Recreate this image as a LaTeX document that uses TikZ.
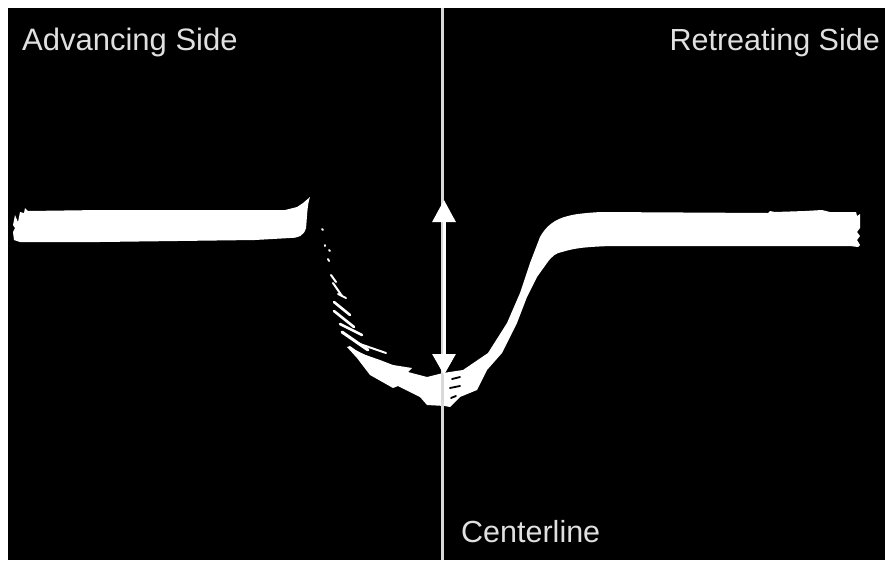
\documentclass[tikz,border=0pt]{standalone}
\usepackage{fontspec}
\setmainfont{Liberation Sans}
\usetikzlibrary{arrows.meta}
\tikzset{
  lbl/.style={text=black!12,inner sep=0pt,font=\fontsize{30.5}{36}\selectfont},
  band/.style={fill=white,draw=none},
  fleck/.style={draw=white,line cap=round,line width=2pt},
  gapdash/.style={draw=black,line cap=round,line width=1.8pt},
  cline/.style={draw=black!15,line width=3pt},
  span/.style={draw=white,line width=3pt,{Triangle[width=23pt,length=22pt]}-{Triangle[width=23pt,length=21pt]}}
}
\begin{document}
\begin{tikzpicture}[x=1pt,y=-1pt]
\useasboundingbox (0,0) rectangle (885,560);
\fill[white] (0,0) rectangle (885,560);
\fill[black] (8,8) rectangle (885,560);
% left plateau
\path[band] (15,215) -- (18,222) -- (20,212) -- (24,213) -- (25,208) -- (28,211) -- (100,210) -- (285,210)
  -- (297,207) -- (303,203) -- (310,197)
  .. controls (307,205) and (307,220) .. (306,228) .. controls (304,236) and (298,238) .. (290,238)
  -- (255,240) -- (100,242) -- (20,242) -- (14,240) -- (13,232) -- (15,228) -- (13,225) -- cycle;
% right plateau, wall and trough
\path[band] (860,214) -- (857,216) -- (856,212) -- (830,212) -- (822,210) -- (805,211) -- (775,212) -- (770,211) -- (768,213)
  -- (600,212) .. controls (585,213) and (575,214) .. (568,216)
  .. controls (555,219) and (546,226) .. (540,237)
  -- (530,263) -- (520,293) -- (507,323) -- (488,353) -- (463,370) -- (443,373)
  -- (427,377) -- (408,372) -- (412,368) -- (393,365) -- (380,360) -- (360,353)
  -- (350,346) -- (347,347) -- (357,358) -- (370,375)
  -- (393,388) -- (398,386) -- (420,397) -- (427,405) -- (445,406) -- (450,407) -- (460,397) -- (477,390) -- (487,370)
  -- (502,353) -- (517,323) -- (527,297) -- (537,277) -- (547,263)
  .. controls (552,256) and (556,253) .. (562,252)
  .. controls (575,248) and (585,247) .. (610,246)
  -- (850,246) -- (858,247) -- (860,245) -- (857,240) -- (860,236) -- (857,232) -- (860,228) -- cycle;
% flecks on the sparse left wall
\draw[fleck] (322,229) -- (323,230);
\draw[fleck] (325,245) -- (325,246);
\draw[fleck] (329,250) -- (330,251);
\draw[fleck] (328,259) -- (329,261);
\draw[fleck] (331,275) -- (336,282);
\draw[fleck] (333,283) -- (342,296);
\draw[fleck] (338,294) -- (346,298);
\draw[fleck,line width=2.6pt] (334,302) -- (350,315);
\draw[fleck,line width=2.6pt] (334,311) -- (354,327);
\draw[fleck,line width=2.6pt] (340,324) -- (362,335);
\draw[fleck,line width=3pt] (342,332) -- (368,350);
\draw[fleck,line width=2pt] (357,343) -- (386,353);
\draw[fleck,line width=3pt] (356,352) -- (378,363);
% dark cuts right of the centreline
\draw[gapdash] (452,379) -- (460,377);
\draw[gapdash] (450,388) -- (460,386);
\draw[gapdash] (451,398) -- (456,396);
% centreline and depth arrow
\coordinate (ctop) at (442,8);
\coordinate (cbot) at (442,560);
\coordinate (atop) at (444,200);
\coordinate (abot) at (444,375);
\draw[cline] (ctop) -- (cbot);
\draw[span] (atop) -- (abot);
% labels
\node[lbl,font=\fontsize{31}{36}\selectfont,anchor=base west] (adv) at (22,50) {Advancing Side};
\node[lbl,anchor=base east] (ret) at (880,50) {Retreating Side};
\node[lbl,anchor=base west] (cen) at (461,542) {Centerline};
\end{tikzpicture}
\end{document}
